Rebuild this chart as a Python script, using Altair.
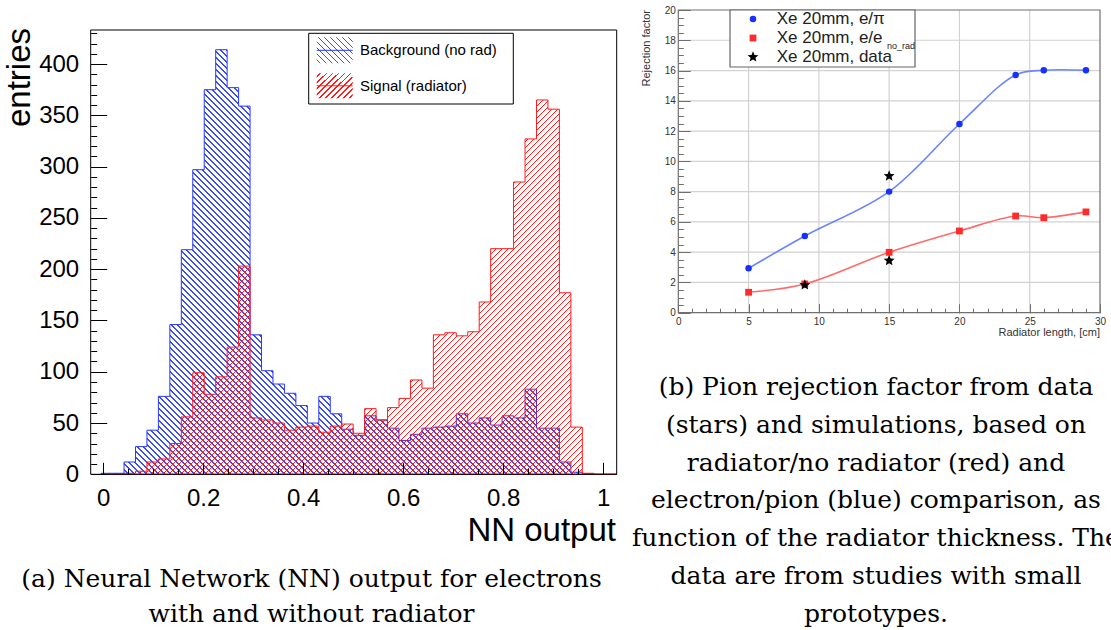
import altair as alt
import numpy as np
import pandas as pd

CANVAS_W, CANVAS_H = 1111, 630
SANS = "Liberation Sans"
SERIF = "DejaVu Serif"

# ---------------- (a) NN output histogram ----------------
BIN_LO, BIN_HI, N_BINS = -0.05, 1.05, 48
FIRST_BIN = 2  # the count lists start at this bin

background = [1, 1, 12, 27, 43, 76, 146, 219, 297, 375, 414, 377, 359, 136,
              101, 88, 79, 67, 50, 76, 59, 44, 38, 57, 53, 45, 33, 39, 45,
              46, 47, 59, 50, 55, 48, 57, 55, 83, 45, 45, 12, 2, 0.5, 0, 0]
signal = [0, 0.5, 1, 3, 12, 15, 30, 56, 99, 78, 95, 124, 203, 55,
          53, 50, 43, 46, 47, 41, 47, 49, 40, 64, 53, 65, 74, 92, 84,
          136, 138, 135, 139, 168, 220, 220, 285, 327, 365, 356, 177, 46, 1, 0, 0]
legend_a = ["Background (no rad)", "Signal (radiator)"]

nn_major = [0, 0.2, 0.4, 0.6, 0.8, 1]
nn_minor = [round(0.05 * i, 2) for i in range(21)]
entries_major = list(range(0, 401, 50))
entries_minor = list(range(0, 431, 10))

# ---------------- (b) rejection factor vs radiator length ----------------
radiator_cm = [5, 9, 15, 20, 24, 26, 29]
rf_e_pi = [2.93, 5.07, 8.0, 12.47, 15.71, 16.02, 16.02]
rf_e_norad = [1.35, 1.9, 3.99, 5.4, 6.39, 6.28, 6.66]
data_cm = [9, 15, 15]
data_rf = [1.83, 9.03, 3.44]

rad_major = list(range(0, 31, 5))
rad_minor = list(range(0, 31))
rf_major = list(range(0, 21, 2))
rf_minor = [0.5 * i for i in range(41)]
grid_x = [5, 10, 15, 20, 25]
grid_y = [2, 4, 6, 8, 10, 12, 14, 16, 18]

caption_a = ["(a) Neural Network (NN) output for electrons",
             "with and without radiator"]
caption_b = ["(b) Pion rejection factor from data",
             "(stars) and simulations, based on",
             "radiator/no radiator (red) and",
             "electron/pion (blue) comparison, as",
             "function of the radiator thickness. The",
             "data are from studies with small",
             "prototypes."]

# ---------------- frames (pixels) ----------------
A_LEFT, A_RIGHT, A_TOP, A_BOTTOM = 90.7, 616.7, 30.0, 474.3
B_LEFT, B_RIGHT, B_TOP, B_BOTTOM = 678.3, 1100.0, 10.0, 312.7
X_DOM_A = [-0.025, 1.0271]
Y_DOM_A = [0, 433.2]

hx = alt.Scale(domain=X_DOM_A, range=[A_LEFT, A_RIGHT], nice=False, zero=False)
hy = alt.Scale(domain=Y_DOM_A, range=[A_BOTTOM, A_TOP], nice=False, zero=False)
rx = alt.Scale(domain=[0, 30], range=[B_LEFT, B_RIGHT], nice=False, zero=False)
ry = alt.Scale(domain=[0, 20], range=[B_BOTTOM, B_TOP], nice=False, zero=False)


def hx_px(v):
    return A_LEFT + (v - X_DOM_A[0]) / (X_DOM_A[1] - X_DOM_A[0]) * (A_RIGHT - A_LEFT)


def hy_px(v):
    return A_BOTTOM - (v - Y_DOM_A[0]) / (Y_DOM_A[1] - Y_DOM_A[0]) * (A_BOTTOM - A_TOP)


def hatch_gradient(rgb, width_px, height_px, forward, period=6.0, stroke=1.4):
    """Striped linear gradient giving 45-degree hatching over a box of the given pixel size."""
    span = width_px + height_px
    s = (width_px ** 2 + height_px ** 2) / span
    if forward:   # '/' strokes
        x1, y1, x2, y2 = 0.0, 0.0, width_px / s, height_px / s
    else:         # '\' strokes
        x1, y1, x2, y2 = 0.0, 1.0, width_px / s, 1.0 - height_px / s
    ink, clear = f"rgba({rgb},1)", f"rgba({rgb},0)"
    stops = [{"offset": 0, "color": clear}]
    pos = period / 2
    while pos + stroke < span:
        a, b = round(pos / span, 6), round((pos + stroke) / span, 6)
        stops += [{"offset": a, "color": clear}, {"offset": a, "color": ink},
                  {"offset": b, "color": ink}, {"offset": b, "color": clear}]
        pos += period
    stops.append({"offset": 1, "color": clear})
    return {"gradient": "linear", "x1": x1, "y1": y1,
            "x2": round(x2, 5), "y2": round(y2, 5), "stops": stops}


def label_axis(orient, offset, values, size, pad, color="black"):
    return alt.Axis(orient=orient, offset=offset, values=values, format=".6~g",
                    domain=False, grid=False, ticks=False, tickSize=0, title=None,
                    labelFont=SANS, labelFontSize=size, labelPadding=pad,
                    labelColor=color, labelFlush=False, labelOverlap=False, zindex=2)


def tick_axis(orient, offset, values, length, color="black"):
    return alt.Axis(orient=orient, offset=offset, values=values, labels=False,
                    domain=False, grid=False, ticks=True, tickSize=length,
                    tickColor=color, tickWidth=1, title=None, zindex=2)


one_row = alt.Data(values=[{}])
BLUE_INK, RED_INK = "55,75,255", "255,25,25"

# ---------------- histogram layers ----------------
bw = (BIN_HI - BIN_LO) / N_BINS
edges = [BIN_LO + (FIRST_BIN + i) * bw for i in range(len(background) + 1)]
hist_df = pd.DataFrame({"nn": edges, "background": background + [0], "signal": signal + [0]})

span_px = hx_px(edges[-1]) - hx_px(edges[0])
bg_fill = hatch_gradient(BLUE_INK, span_px, hy_px(0) - hy_px(max(background)), forward=False)
sg_fill = hatch_gradient(RED_INK, span_px, hy_px(0) - hy_px(max(signal)), forward=True)

bg_area = alt.Chart(hist_df).mark_area(
    interpolate="step-after", fill=bg_fill, stroke="#2838ff", strokeWidth=1, opacity=1
).encode(
    x=alt.X("nn:Q", scale=hx, axis=label_axis("bottom", -(CANVAS_H - A_BOTTOM), nn_major, 24, 12)),
    y=alt.Y("background:Q", scale=hy, axis=label_axis("left", -A_LEFT, entries_major, 24, 12)),
)
sg_area = alt.Chart(hist_df).mark_area(
    interpolate="step-after", fill=sg_fill, stroke="#ff1a1a", strokeWidth=1, opacity=1
).encode(
    x=alt.X("nn:Q", scale=hx, axis=tick_axis("top", -A_BOTTOM, nn_major, 12)),
    y=alt.Y("signal:Q", scale=hy, axis=tick_axis("right", -(CANVAS_W - A_LEFT), entries_major, 16)),
)
frame_a = alt.Chart(one_row).mark_rect(fill="white", fillOpacity=0, stroke="black", strokeWidth=1).encode(
    x=alt.XDatum(X_DOM_A[0], scale=hx, axis=tick_axis("top", -A_BOTTOM, nn_minor, 6)),
    x2=alt.X2Datum(X_DOM_A[1]),
    y=alt.YDatum(Y_DOM_A[0], scale=hy, axis=tick_axis("right", -(CANVAS_W - A_LEFT), entries_minor, 6)),
    y2=alt.Y2Datum(Y_DOM_A[1]),
)

# legend of (a)
LA_X0, LA_X1, LA_Y0, LA_Y1 = 308.7, 513.3, 33.3, 104.0
SW_X0, SW_X1 = 316.7, 352.7
rows_a = [(37.3, 63.3), (73.3, 98.3)]
legend_box_a = alt.Chart(one_row).mark_rect(fill="white", stroke="black", strokeWidth=1).encode(
    x=alt.value(LA_X0), x2=alt.value(LA_X1), y=alt.value(LA_Y0), y2=alt.value(LA_Y1))
legend_a_layers = [legend_box_a]
for (r0, r1), rgb, css, fwd, label in zip(rows_a, [BLUE_INK, RED_INK], ["#2838ff", "#ff1a1a"],
                                          [False, True], legend_a):
    sw_fill = hatch_gradient(rgb, SW_X1 - SW_X0, r1 - r0, forward=fwd)
    legend_a_layers.append(alt.Chart(one_row).mark_rect(fill=sw_fill, opacity=1).encode(
        x=alt.value(SW_X0), x2=alt.value(SW_X1), y=alt.value(r0), y2=alt.value(r1)))
    legend_a_layers.append(alt.Chart(one_row).mark_rule(color=css, strokeWidth=1).encode(
        x=alt.value(SW_X0), x2=alt.value(SW_X1), y=alt.value((r0 + r1) / 2)))
    legend_a_layers.append(alt.Chart(one_row).mark_text(
        align="left", baseline="middle", font=SANS, fontSize=15, color="black"
    ).encode(x=alt.value(360), y=alt.value((r0 + r1) / 2), text=alt.value(label)))

title_x_a = alt.Chart(one_row).mark_text(align="right", baseline="alphabetic", font=SANS,
                                         fontSize=33, color="black").encode(
    x=alt.value(616), y=alt.value(541), text=alt.value("NN output"))
title_y_a = alt.Chart(one_row).mark_text(align="right", baseline="alphabetic", font=SANS,
                                         fontSize=33, angle=270, color="black").encode(
    x=alt.value(30), y=alt.value(A_TOP - 2), text=alt.value("entries"))

panel_a = alt.layer(bg_area, sg_area, *legend_a_layers, frame_a, title_x_a, title_y_a
                    ).resolve_axis(x="independent", y="independent")

# ---------------- rejection factor layers ----------------
GRID = "#d2d2d2"
FRAME_B = "#6f6f6f"
grid_v = alt.Chart(pd.DataFrame({"g": grid_x})).mark_rule(color=GRID, strokeWidth=1.2).encode(
    x=alt.X("g:Q", scale=rx, axis=None), y=alt.YDatum(0, scale=ry, axis=None), y2=alt.Y2Datum(20))
grid_h = alt.Chart(pd.DataFrame({"g": grid_y})).mark_rule(color=GRID, strokeWidth=1.2).encode(
    y=alt.Y("g:Q", scale=ry, axis=None), x=alt.XDatum(0, scale=rx, axis=None), x2=alt.X2Datum(30))

epi_df = pd.DataFrame({"cm": radiator_cm, "rf": rf_e_pi})
enr_df = pd.DataFrame({"cm": radiator_cm, "rf": rf_e_norad})
dat_df = pd.DataFrame({"cm": data_cm, "rf": data_rf})

line_epi = alt.Chart(epi_df).mark_line(interpolate="catmull-rom", color="#6a84ff", strokeWidth=1.6).encode(
    x=alt.X("cm:Q", scale=rx, axis=label_axis("bottom", -(CANVAS_H - B_BOTTOM), rad_major, 10, 4, "#333")),
    y=alt.Y("rf:Q", scale=ry, axis=label_axis("left", -B_LEFT, rf_major, 10, 3, "#333")),
)
line_enr = alt.Chart(enr_df).mark_line(interpolate="catmull-rom", color="#ff6b6b", strokeWidth=1.6).encode(
    x=alt.X("cm:Q", scale=rx, axis=tick_axis("top", -B_BOTTOM, rad_major, 9, FRAME_B)),
    y=alt.Y("rf:Q", scale=ry, axis=tick_axis("right", -(CANVAS_W - B_LEFT), rf_major, 12, FRAME_B)),
)
pts_epi = alt.Chart(epi_df).mark_point(shape="circle", filled=True, size=42, color="#1530ff", opacity=1).encode(
    x=alt.X("cm:Q", scale=rx, axis=tick_axis("top", -B_BOTTOM, rad_minor, 4.5, FRAME_B)),
    y=alt.Y("rf:Q", scale=ry, axis=tick_axis("right", -(CANVAS_W - B_LEFT), rf_minor, 5, FRAME_B)),
)
pts_enr = alt.Chart(enr_df).mark_point(shape="square", filled=True, size=46, color="#ff2a2a", opacity=1).encode(
    x=alt.X("cm:Q", scale=rx, axis=None), y=alt.Y("rf:Q", scale=ry, axis=None))


def star_path(points=5, inner=0.45):
    cmds = []
    for i in range(points * 2):
        r = 1.0 if i % 2 == 0 else inner
        ang = np.pi * i / points - np.pi / 2
        cmds.append(f"{'M' if i == 0 else 'L'}{r * np.cos(ang):.3f},{r * np.sin(ang):.3f}")
    return " ".join(cmds) + " Z"


STAR = star_path()
pts_data = alt.Chart(dat_df).mark_point(shape=STAR, filled=True, size=130, color="black", opacity=1).encode(
    x=alt.X("cm:Q", scale=rx, axis=None), y=alt.Y("rf:Q", scale=ry, axis=None))

frame_b = alt.Chart(one_row).mark_rect(fill="white", fillOpacity=0, stroke=FRAME_B, strokeWidth=1.2).encode(
    x=alt.XDatum(0, scale=rx, axis=None), x2=alt.X2Datum(30),
    y=alt.YDatum(0, scale=ry, axis=None), y2=alt.Y2Datum(20))

# legend of (b)
legend_box_b = alt.Chart(one_row).mark_rect(fill="white", stroke="#666", strokeWidth=1.2).encode(
    x=alt.value(730), x2=alt.value(915), y=alt.value(B_TOP), y2=alt.value(67))
LB_MX, LB_TX = 753, 776.7
rows_b = [19, 38, 57]
legend_b_layers = [legend_box_b]
for row, shape, size, col, label in zip(rows_b, ["circle", "square", STAR], [42, 46, 130],
                                        ["#1530ff", "#ff2a2a", "black"],
                                        ["Xe 20mm, e/\u03c0", "Xe 20mm, e/e", "Xe 20mm, data"]):
    legend_b_layers.append(alt.Chart(one_row).mark_point(shape=shape, filled=True, size=size,
                                                         color=col, opacity=1).encode(
        x=alt.value(LB_MX), y=alt.value(row)))
    legend_b_layers.append(alt.Chart(one_row).mark_text(align="left", baseline="middle", font=SANS,
                                                        fontSize=17, color="#222").encode(
        x=alt.value(LB_TX), y=alt.value(row), text=alt.value(label)))
legend_b_layers.append(alt.Chart(one_row).mark_text(align="left", baseline="middle", font=SANS,
                                                    fontSize=9, color="#222").encode(
    x=alt.value(887), y=alt.value(46), text=alt.value("no_rad")))

title_x_b = alt.Chart(one_row).mark_text(align="right", baseline="middle", font=SANS,
                                         fontSize=11, color="#333").encode(
    x=alt.value(B_RIGHT), y=alt.value(333), text=alt.value("Radiator length, [cm]"))
title_y_b = alt.Chart(one_row).mark_text(align="right", baseline="alphabetic", font=SANS,
                                         fontSize=11, angle=270, color="#333").encode(
    x=alt.value(650), y=alt.value(B_TOP), text=alt.value("Rejection factor"))

panel_b = alt.layer(grid_v, grid_h, line_epi, line_enr, pts_epi, pts_enr, pts_data, frame_b,
                    *legend_b_layers, title_x_b, title_y_b
                    ).resolve_axis(x="independent", y="independent")

# ---------------- captions ----------------
cap_a = alt.Chart(one_row).mark_text(align="center", baseline="alphabetic", font=SERIF, fontSize=25,
                                     lineHeight=35, color="black").encode(
    x=alt.value(311.5), y=alt.value(587), text=alt.value(caption_a))
cap_b = alt.Chart(one_row).mark_text(align="center", baseline="alphabetic", font=SERIF, fontSize=25,
                                     lineHeight=37.8, color="black").encode(
    x=alt.value(876), y=alt.value(395), text=alt.value(caption_b))

chart = alt.layer(panel_a, panel_b, cap_a, cap_b).resolve_scale(
    x="independent", y="independent"
).resolve_axis(
    x="independent", y="independent"
).properties(
    width=CANVAS_W, height=CANVAS_H, padding=0, autosize=alt.AutoSizeParams(type="none"),
    background="white"
).configure_view(strokeWidth=0)

chart.save("out.html", embed_options={"renderer": "svg", "actions": False})
